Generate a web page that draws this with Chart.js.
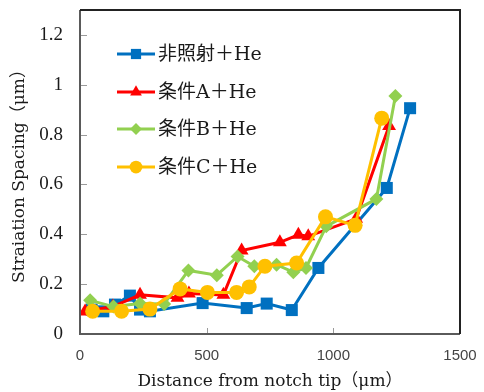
<!DOCTYPE html>
<html>
<head>
<meta charset="utf-8">
<script src="https://cdn.jsdelivr.net/npm/chart.js@4.4.0/dist/chart.umd.min.js"></script>
<style>
html,body{margin:0;padding:0;background:#fff;}
#wrap{width:484px;height:392px;position:relative;}
</style>
</head>
<body>
<div id="wrap"><canvas id="c" width="484" height="392"></canvas></div>
<script>
const seriesNames = ['非照射＋He', '条件A＋He', '条件B＋He', '条件C＋He'];
const blueX = [46, 92, 138, 197, 237, 276, 484, 658, 737, 836, 941, 1211, 1303];
const blueY = [0.098, 0.091, 0.118, 0.154, 0.098, 0.091, 0.124, 0.104, 0.122, 0.096, 0.265, 0.586, 0.906];
const redX = [20, 130, 237, 385, 430, 566, 638, 789, 862, 901, 1090, 1220];
const redY = [0.09, 0.11, 0.157, 0.145, 0.162, 0.157, 0.335, 0.368, 0.398, 0.392, 0.462, 0.835];
const greenX = [40, 132, 237, 332, 428, 540, 622, 688, 776, 842, 892, 972, 1170, 1245];
const greenY = [0.135, 0.11, 0.122, 0.12, 0.255, 0.236, 0.311, 0.272, 0.278, 0.248, 0.265, 0.432, 0.542, 0.955];
const yellowX = [50, 164, 276, 395, 503, 618, 668, 730, 855, 969, 1086, 1191];
const yellowY = [0.091, 0.091, 0.10, 0.181, 0.167, 0.167, 0.189, 0.272, 0.285, 0.47, 0.436, 0.866];
const xTicks = [0, 500, 1000, 1500];
const yTicks = [0, 0.2, 0.4, 0.6, 0.8, 1, 1.2];
const xTitle = 'Distance from notch tip（μm）';
const yTitle = 'Straiation Spacing（μm）';

const colors = ['#0070C0', '#FF0000', '#92D050', '#FFC000'];
const styles = ['rect', 'triangle', 'rectRot', 'circle'];
const radii = [8.5, 8, 7, 7.5];

function pts(xs, ys) { return xs.map((x, i) => ({x: x, y: ys[i]})); }
const allData = [pts(blueX, blueY), pts(redX, redY), pts(greenX, greenY), pts(yellowX, yellowY)];

const datasets = allData.map((d, i) => ({
  label: seriesNames[i],
  data: d,
  borderColor: colors[i],
  backgroundColor: colors[i],
  pointBackgroundColor: colors[i],
  pointBorderColor: colors[i],
  pointBorderWidth: 0,
  pointStyle: styles[i],
  pointRadius: radii[i],
  borderWidth: 3,
  tension: 0,
  order: 3 - i
}));

const serif = "'Liberation Serif', 'Noto Sans CJK JP', serif";
const wideSerif = "'DejaVu Serif', 'Noto Sans CJK JP', serif";

const framePlugin = {
  id: 'frame',
  afterDatasetsDraw(chart) {
    const ctx = chart.ctx, a = chart.chartArea;
    const xs = chart.scales.x, ys = chart.scales.y;
    ctx.save();
    ctx.strokeStyle = '#9a9a9a';
    ctx.lineWidth = 1;
    yTicks.forEach(v => {
      const py = Math.round(ys.getPixelForValue(v)) + 0.5;
      ctx.beginPath(); ctx.moveTo(a.left, py); ctx.lineTo(a.left + 7, py); ctx.stroke();
    });
    xTicks.forEach(v => {
      const px = Math.round(xs.getPixelForValue(v)) + 0.5;
      ctx.beginPath(); ctx.moveTo(px, a.bottom); ctx.lineTo(px, a.bottom - 6); ctx.stroke();
    });
    ctx.lineWidth = 2;
    ctx.strokeStyle = '#5a5a5a';
    ctx.beginPath();
    ctx.moveTo(a.left, a.top); ctx.lineTo(a.left, a.bottom); ctx.lineTo(a.right, a.bottom);
    ctx.stroke();
    ctx.strokeStyle = '#222';
    ctx.beginPath();
    ctx.moveTo(a.left, a.top); ctx.lineTo(a.right, a.top); ctx.lineTo(a.right, a.bottom);
    ctx.stroke();
    const rowY = [54, 92, 129, 167];
    const lx0 = 117, lx1 = 155, mx = 136;
    ctx.font = "19px " + wideSerif;
    ctx.textBaseline = 'middle';
    ctx.textAlign = 'left';
    datasets.forEach((ds, i) => {
      const y = rowY[i];
      ctx.strokeStyle = colors[i];
      ctx.lineWidth = 3;
      ctx.beginPath(); ctx.moveTo(lx0, y); ctx.lineTo(lx1, y); ctx.stroke();
      ctx.fillStyle = colors[i];
      Chart.helpers.drawPoint(ctx, {pointStyle: styles[i], radius: radii[i] * 0.85, rotation: 0, borderWidth: 0}, mx, y);
      ctx.fillStyle = '#1a1a1a';
      ctx.fillText(seriesNames[i], 158, y + 1);
    });
    ctx.restore();
  }
};

new Chart(document.getElementById('c'), {
  type: 'line',
  data: { datasets: datasets },
  options: {
    responsive: false,
    animation: false,
    devicePixelRatio: 1,
    layout: { padding: { left: 0, right: 24, top: 10, bottom: 0 } },
    plugins: { legend: { display: false }, tooltip: { enabled: false } },
    scales: {
      x: {
        type: 'linear', min: 0, max: 1500,
        afterBuildTicks: s => { s.ticks = xTicks.map(v => ({value: v})); },
        afterFit: s => { s.height = 58; s.paddingLeft = 0; s.paddingRight = 0; },
        grid: { display: false, drawTicks: false },
        border: { display: false },
        ticks: { font: { family: "'Liberation Sans', sans-serif", size: 15 }, color: '#444', padding: 13, maxRotation: 0, callback: v => String(v) },
        title: { display: true, text: xTitle, font: { family: wideSerif, size: 17 }, color: '#1a1a1a', padding: { top: 0, bottom: 0 } }
      },
      y: {
        type: 'linear', min: 0, max: 1.3,
        afterBuildTicks: s => { s.ticks = yTicks.map(v => ({value: v})); },
        afterFit: s => { s.width = 80; s.paddingTop = 0; s.paddingBottom = 0; },
        grid: { display: false, drawTicks: false },
        border: { display: false },
        ticks: { font: { family: serif, size: 19 }, color: '#1a1a1a', padding: 17, callback: v => String(Math.round(v * 10) / 10) },
        title: { display: true, text: yTitle, font: { family: wideSerif, size: 17 }, color: '#1a1a1a', padding: { top: 9, bottom: 0 } }
      }
    }
  },
  plugins: [framePlugin]
});
</script>
</body>
</html>
